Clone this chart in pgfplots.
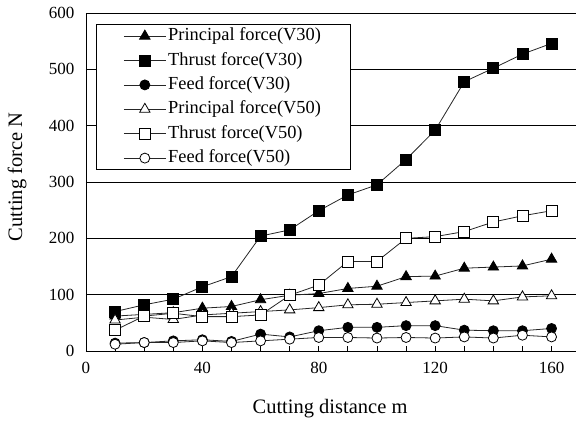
\documentclass[border=0pt]{standalone}
\usepackage{fontspec}
\setmainfont{Liberation Serif}
\usepackage{pgfplots}
\usepackage{pgfplotstable}
\pgfplotsset{compat=1.18}
\pgfplotstableread{
x PV30 TV30 FV30 PV50 TV50 FV50
10 62 70 14 55 37 12
20 65 82 15 60 62 15
30 68 92 18 56 67 15
40 76 114 20 64 61 18
50 79 132 17 67 61 15
60 91 204 30 70 64 18
70 99 215 25 73 99 21
80 102 249 36 77 117 24
90 111 277 42 82 159 24
100 115 295 42 83 159 23
110 132 340 45 86 200 24
120 133 392 45 89 203 23
130 147 478 37 92 212 25
140 149 502 36 89 229 23
150 151 527 36 96 240 28
160 163 546 40 98 249 25
}\data
\begin{document}
\begin{tikzpicture}
\useasboundingbox (-86bp,-72bp) rectangle (490bp,351bp);
\begin{axis}[
  at={(0,0)}, anchor=south west,
  scale only axis, width=490bp, height=338bp,
  xmin=0, xmax=168.4, ymin=0, ymax=600,
  axis x line*=bottom, axis y line*=left,
  axis line style={black, line width=0.9bp},
  xtick={0,10,...,160},
  xticklabels={0,,,,40,,,,80,,,,120,,,,160},
  ytick={0,100,...,600},
  tick align=inside,
  x tick style={black, line width=0.8bp}, major tick length=5bp,
  y tick style={draw=none},
  ymajorgrids, grid style={black, line width=0.9bp},
  /pgf/number format/assume math mode=true,
  ticklabel style={font=\fontsize{17bp}{19bp}\selectfont},
  xticklabel style={yshift=-8bp},
  yticklabel style={xshift=-8bp},
  xlabel={Cutting distance m},
  ylabel={Cutting force N},
  every axis x label/.style={at={(axis description cs:0.498,-0.169)},anchor=center,font=\fontsize{20.5bp}{23bp}\selectfont},
  every axis y label/.style={at={(axis description cs:-0.1408,0.515)},rotate=90,anchor=center,font=\fontsize{20.5bp}{23bp}\selectfont},
  legend style={at={(axis description cs:0.0204,0.967)}, anchor=north west,
    draw=black, line width=0.9bp, fill=white,
    font=\fontsize{18.4bp}{21bp}\selectfont,
    inner xsep=27bp, inner ysep=1bp, row sep=3.4bp,
    nodes={inner sep=2bp, text height=13bp, text depth=4bp}},
  legend cell align=left,
  legend image code/.code={\draw[mark repeat=2,mark phase=2,#1] plot coordinates {(0bp,0bp)(21bp,0bp)(42bp,0bp)};},
  every axis plot/.append style={black!85, line width=0.8bp},
]
\addplot[mark=triangle*, mark size=6bp, mark options={solid, draw=black, fill=black}] table[x=x,y=PV30] {\data};
\addlegendentry{Principal force(V30)}
\addplot[mark=square*, mark size=5.5bp, mark options={solid, draw=black, fill=black}] table[x=x,y=TV30] {\data};
\addlegendentry{Thrust force(V30)}
\addplot[mark=*, mark size=5bp, mark options={solid, draw=black, fill=black}] table[x=x,y=FV30] {\data};
\addlegendentry{Feed force(V30)}
\addplot[mark=triangle*, mark size=6bp, mark options={solid, draw=black, fill=white}] table[x=x,y=PV50] {\data};
\addlegendentry{Principal force(V50)}
\addplot[mark=square*, mark size=5.5bp, mark options={solid, draw=black, fill=white}] table[x=x,y=TV50] {\data};
\addlegendentry{Thrust force(V50)}
\addplot[mark=*, mark size=5bp, mark options={solid, draw=black, fill=white}] table[x=x,y=FV50] {\data};
\addlegendentry{Feed force(V50)}
\end{axis}
\end{tikzpicture}
\end{document}
